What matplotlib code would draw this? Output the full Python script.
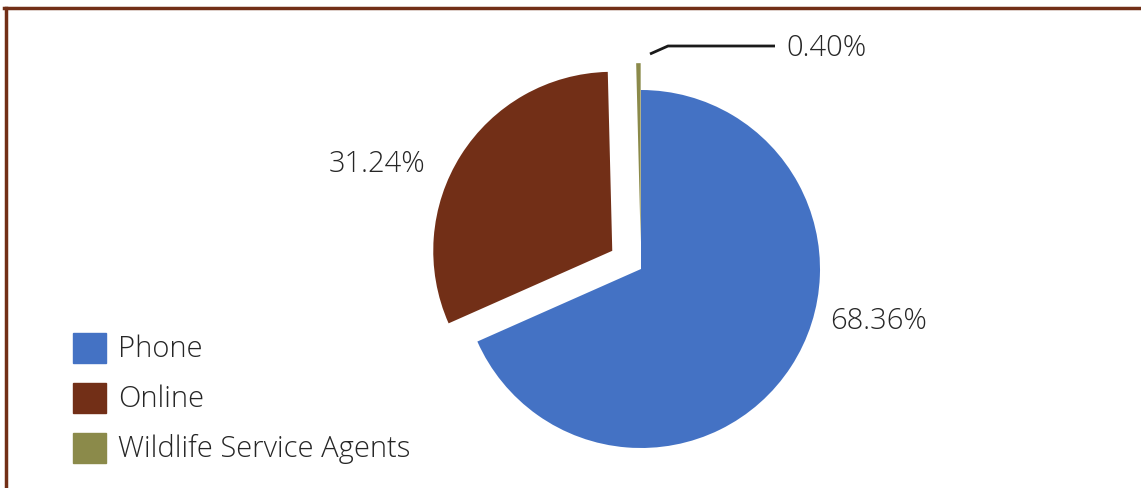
import matplotlib.pyplot as plt
from matplotlib.patches import Rectangle
from matplotlib.lines import Line2D

plt.rcParams['font.family'] = ['Open Sans', 'DejaVu Sans']

# 데이터
labels = ["Phone", "Online", "Wildlife Service Agents"]
shares = [68.36, 31.24, 0.40]
colors = ["#4472C4", "#722F17", "#8B8A4A"]
explode = [0.0, 0.19, 0.15]
pct_text = [f"{v:.2f}%" for v in shares]

W, H = 1141, 489
R = 179.0          # 파이 반지름 (px)
cx, cy = 641, 270  # 파이 중심 (px, 위에서부터)

fig = plt.figure(figsize=(W / 100, H / 100), dpi=100)
ax = fig.add_axes([0, 0, 1, 1])

ax.pie(shares, colors=colors, explode=explode, startangle=90,
       counterclock=False, radius=1, center=(0, 0),
       wedgeprops=dict(linewidth=0))
ax.set_aspect('auto')
ax.set_xlim(-cx / R, (W - cx) / R)
ax.set_ylim(-(H - cy) / R, cy / R)
ax.axis('off')

txt_kw = dict(fontsize=21, color="#262626", fontweight='light', va='center')

# 퍼센트 라벨
ax.text((830 - cx) / R, (cy - 321) / R, pct_text[0], ha='left', **txt_kw)
ax.text((425 - cx) / R, (cy - 164) / R, pct_text[1], ha='right', **txt_kw)
ax.text((786 - cx) / R, (cy - 48) / R, pct_text[2], ha='left', **txt_kw)
ax.plot([(650 - cx) / R, (668 - cx) / R, (775 - cx) / R],
        [(cy - 55) / R, (cy - 47) / R, (cy - 47) / R],
        color="#1a1a1a", linewidth=2, solid_capstyle='butt')

# 범례 (수동)
for i, (lab, col) in enumerate(zip(labels, colors)):
    yc = 349 + 50 * i
    fig.patches.append(Rectangle((73 / W, 1 - (yc + 15) / H), 33 / W, 30 / H,
                                 transform=fig.transFigure, color=col))
    fig.text(118 / W, 1 - yc / H, lab, ha='left', **txt_kw)

# 테두리
fig.add_artist(Line2D([5.5 / W, 5.5 / W], [0, 1 - 8.5 / H],
                      transform=fig.transFigure, color="#722F17", linewidth=2.5))
fig.add_artist(Line2D([4 / W, 1], [1 - 9 / H, 1 - 9 / H],
                      transform=fig.transFigure, color="#722F17", linewidth=2.5))

fig.savefig("out.png", dpi=100)
